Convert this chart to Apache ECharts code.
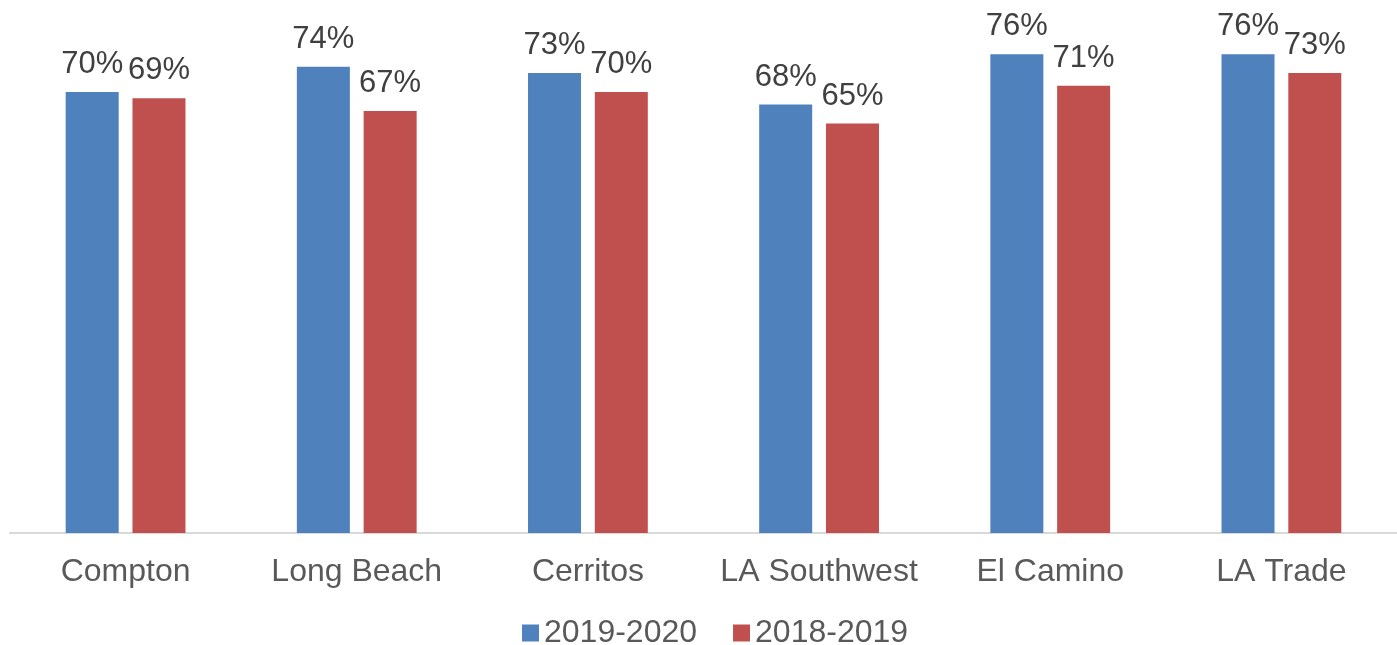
<!DOCTYPE html>
<html>
<head>
<meta charset="utf-8">
<script src="https://cdn.jsdelivr.net/npm/echarts@6/dist/echarts.min.js"></script>
<style>
  html, body { margin: 0; padding: 0; background: #fff; }
  #chart { width: 1397px; height: 645px; }
</style>
</head>
<body>
<div id="chart"></div>
<script>
// categories and values (share as fractions)
var colleges = ['Compton', 'Long Beach', 'Cerritos', 'LA Southwest', 'El Camino', 'LA Trade'];
var year2019 = [0.70, 0.74, 0.73, 0.68, 0.76, 0.76];
var year2018 = [0.69, 0.67, 0.70, 0.65, 0.71, 0.73];
var seriesNames = ['2019-2020', '2018-2019'];

var fontFam = 'Arial, "Liberation Sans", sans-serif';

function pctLabel(p) {
    return Math.round(p.value * 100) + '%';
}

var option = {
    backgroundColor: '#ffffff',
    animation: false,
    grid: {
        left: 10,
        top: 29,
        width: 1397,
        bottom: 112
    },
    legend: {
        data: seriesNames,
        left: 517,
        top: 612,
        icon: 'rect',
        itemWidth: 17,
        itemHeight: 17,
        itemGap: 36,
        textStyle: {
            fontFamily: fontFam,
            fontSize: 32,
            color: '#595959'
        }
    },
    xAxis: {
        type: 'category',
        data: colleges,
        axisLine: {
            lineStyle: {
                color: '#d9d9d9',
                width: 2
            }
        },
        axisTick: { show: false },
        axisLabel: {
            interval: 0,
            hideOverlap: false,
            margin: 23,
            fontFamily: fontFam,
            fontSize: 32,
            color: '#595959'
        }
    },
    yAxis: {
        type: 'value',
        min: 0,
        max: 0.8,
        show: false,
        splitLine: { show: false }
    },
    series: [{
        name: seriesNames[0],
        type: 'bar',
        data: year2019,
        barWidth: 53,
        barGap: '26%',
        itemStyle: { color: '#4f81bd' },
        label: {
            show: true,
            position: 'top',
            distance: 12,
            formatter: pctLabel,
            fontFamily: fontFam,
            fontSize: 31,
            color: '#404040'
        }
    }, {
        name: seriesNames[1],
        type: 'bar',
        data: year2018,
        barWidth: 53,
        itemStyle: { color: '#c0504d' },
        label: {
            show: true,
            position: 'top',
            distance: 12,
            formatter: pctLabel,
            fontFamily: fontFam,
            fontSize: 31,
            color: '#404040'
        }
    }]
};

var myChart = echarts.init(document.getElementById('chart'));
myChart.setOption(option);
</script>
</body>
</html>
